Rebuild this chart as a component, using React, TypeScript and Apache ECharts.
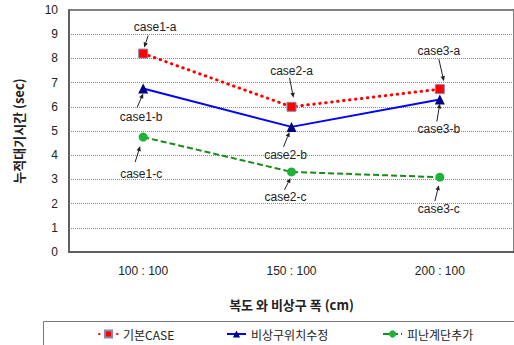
import React, { useEffect, useRef } from "react";
import * as echarts from "echarts";

const categories = ["100 : 100", "150 : 100", "200 : 100"];
const seriesNames = ["기본CASE", "비상구위치수정", "피난계단추가"];
const baseCase = [8.2, 6.0, 6.73];
const exitMoved = [6.76, 5.17, 6.3];
const stairsAdded = [4.75, 3.31, 3.09];
const caseLabels = [
  ["case1-a", "case2-a", "case3-a"],
  ["case1-b", "case2-b", "case3-b"],
  ["case1-c", "case2-c", "case3-c"],
];

// annotation layout offsets (pixels relative to point): label dx,dy, arrow start, arrow end
const annoLayout: Record<string, number[]> = {
  "case1-a": [12, -27, 5, -18, 1, -6],
  "case1-b": [-2, 29, -6, 19, 0, 5],
  "case1-c": [-2, 37, -8, 25, -3, 9],
  "case2-a": [0, -36, -2, -29, 2, -9],
  "case2-b": [-6, 28, -8, 20, -2, 5],
  "case2-c": [-6, 25, -7, 18, -1, 6],
  "case3-a": [-1, -38, -1, -30, 4, -8],
  "case3-b": [-1, 29, -3, 22, 0, 4],
  "case3-c": [-1, 32, -5, 24, -1, 8],
};
const legendLefts = [93, 221, 377];

export default function App() {
  const ref = useRef<HTMLDivElement>(null);
  useEffect(() => {
    const chart = echarts.init(ref.current!, null, { renderer: "svg" });
    const allSeries = [baseCase, exitMoved, stairsAdded];
    const annoData: any[] = [];
    allSeries.forEach((arr, si) =>
      arr.forEach((v, ci) => annoData.push([ci, v, caseLabels[si][ci]]))
    );
    const font = "'Liberation Sans', Arial, sans-serif";
    const kfont = "'Noto Sans CJK KR', sans-serif";
    chart.setOption({
      animation: false,
      grid: {
        left: 69,
        top: 10,
        right: -2,
        bottom: 93,
        show: true,
        borderColor: "#555",
        borderWidth: 1.5,
      },
      xAxis: {
        type: "category",
        data: categories,
        boundaryGap: true,
        axisLine: { show: true, lineStyle: { color: "#555", width: 1.5 } },
        axisTick: { show: false },
        axisLabel: { color: "#222", fontSize: 12, fontFamily: font, margin: 13 },
        name: "복도 와 비상구 폭 (cm)",
        nameLocation: "middle",
        nameGap: 46,
        nameTextStyle: { fontSize: 13, fontWeight: "bold", color: "#222", fontFamily: kfont },
      },
      yAxis: {
        type: "value",
        min: 0,
        max: 10,
        interval: 1,
        axisLine: { show: true, lineStyle: { color: "#555", width: 1.5 } },
        axisTick: { show: false },
        axisLabel: { color: "#222", fontSize: 12, fontFamily: font, margin: 11 },
        splitLine: { show: true, lineStyle: { color: "#888", type: [1, 1], width: 1 } },
        name: "누적대기시간 (sec)",
        nameLocation: "middle",
        nameGap: 44,
        nameRotate: 90,
        nameTextStyle: { fontSize: 13, fontWeight: "bold", color: "#222", fontFamily: kfont },
      },
      legend: seriesNames.map((n, i) => ({
        left: legendLefts[i],
        top: 323,
        itemWidth: 19,
        itemHeight: 9,
        data: [n],
        textStyle: { fontSize: 12, color: "#222", fontFamily: kfont },
      })),
      graphic: [
        {
          type: "rect",
          shape: { x: 43.5, y: 321.5, width: 480, height: 40 },
          style: { fill: "none", stroke: "#777", lineWidth: 1 },
          silent: true,
        },
      ],
      series: [
        {
          name: seriesNames[0],
          type: "line",
          data: baseCase,
          symbol: "rect",
          symbolSize: 9,
          itemStyle: { color: "#ff0000", borderColor: "#8888aa", borderWidth: 1 },
          lineStyle: { color: "#ff0000", width: 3, type: [0.5, 5.5], cap: "round" },
          z: 3,
        },
        {
          name: seriesNames[1],
          type: "line",
          data: exitMoved,
          symbol: "triangle",
          symbolSize: 10,
          itemStyle: { color: "#000080" },
          lineStyle: { color: "#0000ff", width: 2 },
          z: 3,
        },
        {
          name: seriesNames[2],
          type: "line",
          data: stairsAdded,
          symbol: "circle",
          symbolSize: 9,
          itemStyle: { color: "#1db33a" },
          lineStyle: { color: "#1a8a1a", width: 2, type: [6, 3] },
          z: 3,
        },
        {
          type: "custom",
          data: annoData,
          z: 5,
          silent: true,
          renderItem: (params: any, api: any) => {
            const p = api.coord([api.value(0), api.value(1)]);
            const name = annoData[params.dataIndex][2];
            const L = annoLayout[name];
            const sx = p[0] + L[2], sy = p[1] + L[3];
            const ex = p[0] + L[4], ey = p[1] + L[5];
            const ang = Math.atan2(ey - sy, ex - sx);
            const ah = 5, aw = 2.2;
            const bx = ex - ah * Math.cos(ang), by = ey - ah * Math.sin(ang);
            const nx = -Math.sin(ang), ny = Math.cos(ang);
            return {
              type: "group",
              children: [
                {
                  type: "line",
                  shape: { x1: sx, y1: sy, x2: bx, y2: by },
                  style: { stroke: "#222", lineWidth: 1 },
                },
                {
                  type: "polygon",
                  shape: {
                    points: [
                      [ex, ey],
                      [bx + nx * aw, by + ny * aw],
                      [bx - nx * aw, by - ny * aw],
                    ],
                  },
                  style: { fill: "#222" },
                },
                {
                  type: "text",
                  x: p[0] + L[0],
                  y: p[1] + L[1],
                  style: {
                    text: name,
                    fill: "#222",
                    fontSize: 12,
                    fontFamily: font,
                    align: "center",
                    verticalAlign: "middle",
                  },
                },
              ],
            };
          },
        },
      ],
    });
    return () => chart.dispose();
  }, []);
  return (
    <div
      ref={ref}
      style={{ position: "fixed", left: 0, top: 0, width: 514, height: 345, background: "#fff" }}
    />
  );
}
